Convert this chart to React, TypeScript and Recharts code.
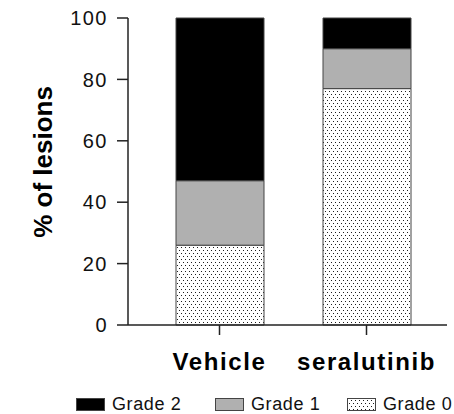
import { Bar, BarChart, XAxis, YAxis } from 'recharts';

const groups = ['Vehicle', 'seralutinib'];
const grade0 = [26, 77];
const grade1 = [21, 13];
const grade2 = [53, 10];
const yTicks = [0, 20, 40, 60, 80, 100];

const legendItems = [
    { name: 'Grade 2', fill: '#000000' },
    { name: 'Grade 1', fill: '#b0b0b0' },
    { name: 'Grade 0', fill: 'url(#dots-legend)' },
];

const data = groups.map((group, i) => ({
    group,
    grade0: grade0[i],
    grade1: grade1[i],
    grade2: grade2[i],
}));

const FONT = '"Liberation Sans", Arial, Helvetica, sans-serif';
const AXIS = '#222222';

function DotPattern({ id }: { id: string }) {
    return (
        <pattern id={id} width={4} height={6} patternUnits="userSpaceOnUse">
            <rect width={4} height={6} fill="#ffffff" />
            <rect x={1} y={1} width={1} height={1} fill="#1e1e1e" />
            <rect x={3} y={4} width={1} height={1} fill="#1e1e1e" />
        </pattern>
    );
}

function LegendRow() {
    const xs = [76, 215, 347];
    return (
        <svg width={454} height={30} style={{ position: 'absolute', left: 0, top: 390 }}>
            <defs>
                <DotPattern id="dots-legend" />
            </defs>
            {legendItems.map((item, i) => (
                <g key={item.name}>
                    <rect
                        x={xs[i] + 0.5}
                        y={8.5}
                        width={28}
                        height={12}
                        fill={item.fill}
                        stroke="#444444"
                        strokeWidth={1}
                    />
                    <text
                        x={xs[i] + 36}
                        y={20}
                        fontFamily={FONT}
                        fontSize={18}
                        letterSpacing={0.6}
                        fill="#111111"
                    >
                        {item.name}
                    </text>
                </g>
            ))}
        </svg>
    );
}

export default function App() {
    return (
        <div style={{ position: 'absolute', left: 0, top: 0, width: 454, height: 414, background: '#fff' }}>
            <BarChart
                width={454}
                height={380}
                data={data}
                margin={{ top: 18, right: 7, left: 0, bottom: 0 }}
                barSize={88}
            >
                <defs>
                    <DotPattern id="dots" />
                </defs>
                <XAxis
                    dataKey="group"
                    height={55}
                    padding={{ left: 18, right: 7 }}
                    axisLine={{ stroke: AXIS, strokeWidth: 1.5 }}
                    tickLine={{ stroke: AXIS, strokeWidth: 1.5 }}
                    tickSize={10}
                    tickMargin={18}
                    tick={{ fill: '#000', fontSize: 24, fontWeight: 700, fontFamily: FONT, letterSpacing: 1.6 }}
                />
                <YAxis
                    width={128}
                    domain={[0, 100]}
                    ticks={yTicks}
                    axisLine={{ stroke: AXIS, strokeWidth: 1.5 }}
                    tickLine={{ stroke: AXIS, strokeWidth: 1.5 }}
                    tickSize={11}
                    tickMargin={9}
                    tick={{ fill: '#111', fontSize: 20, fontFamily: FONT, letterSpacing: 1.5 }}
                    label={{
                        content: () => (
                            <text
                                transform="translate(52,162) rotate(-90)"
                                textAnchor="middle"
                                fontFamily={FONT}
                                fontSize={26}
                                fontWeight={700}
                                fill="#000"
                            >
                                % of lesions
                            </text>
                        ),
                    }}
                />
                <Bar dataKey="grade0" stackId="a" fill="url(#dots)" stroke="#444444" strokeWidth={1} isAnimationActive={false} />
                <Bar dataKey="grade1" stackId="a" fill="#b0b0b0" stroke="#444444" strokeWidth={1} isAnimationActive={false} />
                <Bar dataKey="grade2" stackId="a" fill="#000000" stroke="#444444" strokeWidth={1} isAnimationActive={false} />
            </BarChart>
            <LegendRow />
        </div>
    );
}
